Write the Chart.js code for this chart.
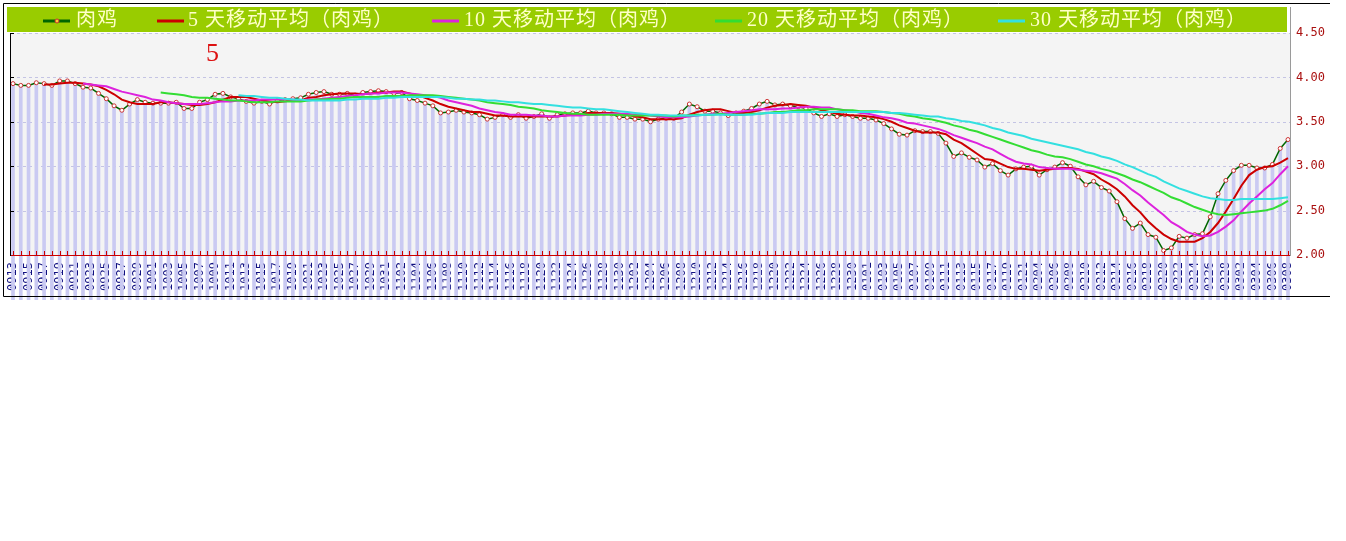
<!DOCTYPE html>
<html>
<head>
<meta charset="utf-8">
<script src="https://cdn.jsdelivr.net/npm/chart.js@4.4.0/dist/chart.umd.min.js"></script>
<style>
  body { margin: 0; background: #fff; }
  #wrap { position: absolute; left: 0; top: 0; width: 1346px; height: 300px; }
</style>
</head>
<body>
<div id="wrap"><canvas id="chart" width="1346" height="300"></canvas></div>
<script>
// trading days, 0913 .. 0308
var categories = [
  "0913","0914","0915","0916","0917","0918","0919","0920","0921","0922",
  "0923","0924","0925","0926","0927","0928","0929","0930","1001","1002",
  "1003","1004","1005","1006","1007","1008","1009","1010","1011","1012",
  "1013","1014","1015","1016","1017","1018","1019","1020","1021","1022",
  "1023","1024","1025","1026","1027","1028","1029","1030","1031","1101",
  "1102","1103","1104","1105","1106","1107","1108","1109","1110","1111",
  "1112","1113","1114","1115","1116","1117","1118","1119","1120","1121",
  "1122","1123","1124","1125","1126","1127","1128","1129","1130","1201",
  "1202","1203","1204","1205","1206","1207","1208","1209","1210","1211",
  "1212","1213","1214","1215","1216","1217","1218","1219","1220","1221",
  "1222","1223","1224","1225","1226","1227","1228","1229","1230","1231",
  "0101","0102","0103","0104","0105","0106","0107","0108","0109","0110",
  "0111","0112","0113","0114","0115","0116","0117","0118","0119","0120",
  "0121","0122","0204","0205","0206","0207","0208","0209","0210","0211",
  "0212","0213","0214","0215","0216","0217","0218","0219","0220","0221",
  "0222","0223","0224","0225","0226","0227","0228","0301","0302","0303",
  "0304","0305","0306","0307","0308"
];

var price = [
  3.93,3.91,3.91,3.94,3.93,3.91,3.96,3.96,3.93,3.89,
  3.88,3.82,3.76,3.68,3.63,3.70,3.75,3.72,3.71,3.71,
  3.71,3.72,3.65,3.65,3.72,3.75,3.81,3.82,3.78,3.76,
  3.73,3.71,3.73,3.70,3.74,3.75,3.76,3.77,3.81,3.83,
  3.84,3.81,3.81,3.82,3.80,3.83,3.84,3.85,3.84,3.82,
  3.83,3.76,3.74,3.71,3.68,3.60,3.61,3.63,3.61,3.60,
  3.58,3.53,3.55,3.58,3.55,3.58,3.54,3.56,3.59,3.54,
  3.58,3.59,3.60,3.60,3.62,3.60,3.60,3.59,3.55,3.55,
  3.53,3.53,3.50,3.53,3.54,3.54,3.61,3.70,3.67,3.62,
  3.62,3.60,3.57,3.60,3.62,3.65,3.70,3.73,3.69,3.70,
  3.68,3.67,3.65,3.60,3.56,3.59,3.56,3.58,3.56,3.54,
  3.54,3.52,3.48,3.42,3.36,3.35,3.40,3.39,3.39,3.37,
  3.26,3.11,3.15,3.10,3.07,2.99,3.03,2.95,2.90,2.97,
  2.99,3.00,2.90,2.96,2.99,3.04,3.00,2.88,2.79,2.83,
  2.76,2.72,2.60,2.41,2.30,2.36,2.23,2.20,2.05,2.08,
  2.21,2.19,2.23,2.24,2.43,2.69,2.84,2.95,3.01,3.01,
  2.98,2.98,3.02,3.20,3.30
];

var ma5 = [
  null,null,null,null,3.92,3.92,3.93,3.94,3.94,3.93,
  3.92,3.90,3.86,3.81,3.75,3.72,3.70,3.70,3.70,3.72,
  3.72,3.71,3.70,3.69,3.69,3.70,3.72,3.75,3.78,3.78,
  3.78,3.76,3.74,3.73,3.72,3.73,3.74,3.74,3.77,3.78,
  3.80,3.81,3.82,3.82,3.82,3.81,3.82,3.83,3.83,3.84,
  3.84,3.82,3.80,3.77,3.74,3.70,3.67,3.65,3.63,3.61,
  3.61,3.59,3.57,3.57,3.56,3.56,3.56,3.56,3.56,3.56,
  3.56,3.57,3.58,3.58,3.60,3.60,3.60,3.60,3.59,3.58,
  3.56,3.55,3.53,3.53,3.53,3.53,3.54,3.58,3.61,3.63,
  3.64,3.64,3.62,3.60,3.60,3.61,3.63,3.66,3.68,3.69,
  3.70,3.69,3.68,3.66,3.63,3.61,3.59,3.58,3.57,3.57,
  3.56,3.55,3.53,3.50,3.46,3.43,3.40,3.38,3.38,3.38,
  3.36,3.30,3.26,3.20,3.14,3.08,3.07,3.03,2.99,2.97,
  2.97,2.96,2.95,2.96,2.97,2.98,2.98,2.97,2.94,2.91,
  2.85,2.80,2.74,2.66,2.56,2.48,2.38,2.30,2.23,2.18,
  2.15,2.15,2.15,2.19,2.26,2.36,2.49,2.63,2.78,2.90,
  2.96,2.99,3.00,3.04,3.09
];

var ma10 = [
  null,null,null,null,null,null,null,null,null,3.93,
  3.92,3.91,3.90,3.87,3.84,3.82,3.80,3.78,3.75,3.74,
  3.72,3.71,3.70,3.70,3.70,3.71,3.72,3.73,3.73,3.74,
  3.74,3.74,3.75,3.75,3.75,3.75,3.75,3.74,3.75,3.75,
  3.76,3.77,3.78,3.79,3.80,3.81,3.82,3.82,3.83,3.83,
  3.83,3.82,3.81,3.80,3.79,3.77,3.74,3.72,3.70,3.68,
  3.65,3.63,3.61,3.60,3.58,3.58,3.58,3.57,3.57,3.56,
  3.56,3.57,3.57,3.57,3.58,3.58,3.59,3.59,3.59,3.59,
  3.58,3.58,3.57,3.56,3.55,3.55,3.55,3.56,3.57,3.58,
  3.59,3.59,3.60,3.61,3.62,3.63,3.64,3.64,3.64,3.65,
  3.65,3.66,3.67,3.67,3.66,3.66,3.64,3.63,3.62,3.60,
  3.59,3.57,3.55,3.54,3.52,3.49,3.48,3.46,3.44,3.42,
  3.39,3.35,3.32,3.29,3.26,3.22,3.19,3.14,3.09,3.05,
  3.03,3.02,2.99,2.98,2.97,2.97,2.97,2.96,2.95,2.94,
  2.92,2.89,2.86,2.80,2.73,2.67,2.59,2.52,2.45,2.37,
  2.32,2.26,2.23,2.21,2.22,2.26,2.32,2.39,2.49,2.58,
  2.66,2.74,2.81,2.91,3.00
];

var ma20 = [
  null,null,null,null,null,null,null,null,null,null,
  null,null,null,null,null,null,null,null,null,3.83,
  3.82,3.81,3.80,3.78,3.77,3.77,3.76,3.75,3.74,3.74,
  3.73,3.72,3.72,3.72,3.73,3.73,3.73,3.73,3.74,3.75,
  3.75,3.76,3.76,3.77,3.78,3.78,3.78,3.78,3.79,3.79,
  3.79,3.80,3.80,3.80,3.80,3.79,3.78,3.77,3.76,3.75,
  3.74,3.72,3.71,3.70,3.69,3.67,3.66,3.65,3.63,3.62,
  3.61,3.60,3.59,3.59,3.58,3.58,3.58,3.58,3.58,3.57,
  3.57,3.57,3.57,3.57,3.57,3.56,3.57,3.57,3.58,3.58,
  3.58,3.59,3.58,3.58,3.58,3.59,3.59,3.60,3.61,3.61,
  3.62,3.63,3.63,3.64,3.64,3.64,3.64,3.63,3.63,3.62,
  3.62,3.62,3.61,3.60,3.59,3.57,3.56,3.54,3.53,3.51,
  3.49,3.46,3.44,3.41,3.39,3.36,3.33,3.30,3.27,3.24,
  3.21,3.18,3.16,3.13,3.11,3.10,3.08,3.05,3.02,3.00,
  2.97,2.95,2.92,2.89,2.85,2.82,2.78,2.74,2.70,2.65,
  2.62,2.58,2.54,2.51,2.48,2.46,2.45,2.46,2.47,2.48,
  2.49,2.50,2.52,2.56,2.61
];

var ma30 = [
  null,null,null,null,null,null,null,null,null,null,
  null,null,null,null,null,null,null,null,null,null,
  null,null,null,null,null,null,null,null,null,3.80,
  3.79,3.79,3.78,3.77,3.77,3.76,3.75,3.75,3.74,3.74,
  3.74,3.74,3.74,3.75,3.75,3.76,3.76,3.76,3.77,3.77,
  3.78,3.78,3.78,3.78,3.78,3.78,3.77,3.76,3.76,3.75,
  3.75,3.74,3.74,3.73,3.72,3.72,3.71,3.70,3.70,3.69,
  3.68,3.67,3.66,3.66,3.65,3.64,3.64,3.63,3.62,3.61,
  3.60,3.59,3.58,3.58,3.57,3.57,3.57,3.57,3.57,3.58,
  3.58,3.58,3.58,3.58,3.58,3.58,3.59,3.60,3.60,3.60,
  3.61,3.61,3.61,3.61,3.61,3.61,3.61,3.61,3.61,3.61,
  3.61,3.61,3.61,3.60,3.60,3.59,3.58,3.57,3.56,3.56,
  3.54,3.53,3.51,3.50,3.48,3.46,3.43,3.41,3.38,3.36,
  3.34,3.31,3.29,3.27,3.25,3.23,3.21,3.19,3.16,3.14,
  3.11,3.09,3.06,3.02,2.99,2.95,2.91,2.88,2.83,2.79,
  2.75,2.72,2.69,2.66,2.64,2.63,2.62,2.62,2.63,2.63,
  2.63,2.63,2.63,2.64,2.65
];

var yMin = 2.0, yMax = 4.5, yStep = 0.5;

// legend sample / text x positions
var legendPos = [
  { line: 43, text: 76 },
  { line: 157, text: 188 },
  { line: 432, text: 464 },
  { line: 715, text: 747 },
  { line: 998, text: 1030 }
];

var framePlugin = {
  id: "frame",
  beforeDraw: function (chart) {
    var ctx = chart.ctx, a = chart.chartArea;
    ctx.save();
    ctx.fillStyle = "#f4f4f4";
    ctx.fillRect(11, a.top, 1290 - 11, a.bottom - a.top);
    ctx.restore();
  },
  beforeDatasetsDraw: function (chart) {
    var ctx = chart.ctx, y = chart.scales.y;
    ctx.save();
    ctx.strokeStyle = "#c4c4e4";
    ctx.lineWidth = 1;
    ctx.setLineDash([3, 3]);
    y.ticks.forEach(function (t) {
      if (t.value <= yMin) return;
      var py = Math.round(y.getPixelForValue(t.value)) + 0.5;
      ctx.beginPath();
      ctx.moveTo(11, py);
      ctx.lineTo(1290, py);
      ctx.stroke();
    });
    ctx.restore();
  },
  afterDraw: function (chart) {
    var ctx = chart.ctx, a = chart.chartArea;
    var x = chart.scales.x, y = chart.scales.y;
    ctx.save();

    // outer frame
    ctx.strokeStyle = "#000";
    ctx.lineWidth = 1;
    ctx.beginPath();
    ctx.moveTo(1330, 3.5); ctx.lineTo(3.5, 3.5); ctx.lineTo(3.5, 296.5); ctx.lineTo(1330, 296.5);
    ctx.stroke();

    // right grey border
    ctx.strokeStyle = "#9a9a9a";
    ctx.beginPath();
    ctx.moveTo(1290.5, 7); ctx.lineTo(1290.5, a.bottom + 1);
    ctx.stroke();

    // left axis with small ticks
    ctx.strokeStyle = "#000";
    ctx.beginPath();
    ctx.moveTo(10.5, a.top); ctx.lineTo(10.5, a.bottom + 1);
    y.ticks.forEach(function (t) {
      var py = Math.round(y.getPixelForValue(t.value)) + 0.5;
      ctx.moveTo(10, py); ctx.lineTo(14, py);
    });
    ctx.stroke();

    // red bottom axis with inner ticks
    ctx.strokeStyle = "#cc0000";
    ctx.beginPath();
    ctx.moveTo(11, a.bottom + 0.5); ctx.lineTo(1290, a.bottom + 0.5);
    for (var i = 0; i < categories.length; i++) {
      var px = Math.round(x.getPixelForValue(i)) + 0.5;
      ctx.moveTo(px, a.bottom - 4); ctx.lineTo(px, a.bottom);
    }
    ctx.stroke();

    // legend bar
    ctx.fillStyle = "#99cc00";
    ctx.fillRect(7, 7, 1280, 25);
    ctx.font = '20px "Liberation Serif", "Noto Sans CJK SC"';
    ctx.letterSpacing = "1px";
    ctx.textBaseline = "middle";
    ctx.textAlign = "left";
    var sets = chart.data.datasets.slice(1);
    sets.forEach(function (ds, k) {
      var p = legendPos[k];
      ctx.strokeStyle = ds.borderColor;
      ctx.lineWidth = 3;
      ctx.beginPath();
      ctx.moveTo(p.line, 21); ctx.lineTo(p.line + 27, 21);
      ctx.stroke();
      if (k === 0) {
        ctx.lineWidth = 1;
        ctx.fillStyle = "#ffcc33";
        ctx.strokeStyle = "#cc3333";
        ctx.beginPath();
        ctx.arc(p.line + 14, 21, 2, 0, Math.PI * 2);
        ctx.fill(); ctx.stroke();
      }
      ctx.fillStyle = "#ffffc8";
      ctx.fillText(ds.label, p.text, 21);
    });
    ctx.letterSpacing = "0px";

    // red marker digit
    ctx.fillStyle = "#dd1111";
    ctx.font = '26px "Liberation Serif"';
    ctx.textBaseline = "alphabetic";
    ctx.fillText("5", 206, 61);

    ctx.restore();
  }
};

new Chart(document.getElementById("chart"), {
  data: {
    labels: categories,
    datasets: [
      {
        type: "bar",
        label: "bars",
        data: price,
        backgroundColor: "#cacaf2",
        barThickness: 3,
        clip: false,
        order: 10
      },
      {
        type: "line",
        label: "肉鸡",
        data: price,
        borderColor: "#006600",
        borderWidth: 1.5,
        pointRadius: 2,
        pointBorderWidth: 1,
        pointBorderColor: "#cc3333",
        pointBackgroundColor: "#ffffff",
        clip: false,
        order: 5
      },
      {
        type: "line",
        label: "5 天移动平均（肉鸡）",
        data: ma5,
        borderColor: "#cc0000",
        borderWidth: 2,
        pointRadius: 0,
        order: 4
      },
      {
        type: "line",
        label: "10 天移动平均（肉鸡）",
        data: ma10,
        borderColor: "#dd22dd",
        borderWidth: 2,
        pointRadius: 0,
        order: 3
      },
      {
        type: "line",
        label: "20 天移动平均（肉鸡）",
        data: ma20,
        borderColor: "#33dd33",
        borderWidth: 2,
        pointRadius: 0,
        order: 2
      },
      {
        type: "line",
        label: "30 天移动平均（肉鸡）",
        data: ma30,
        borderColor: "#33e0e0",
        borderWidth: 2,
        pointRadius: 0,
        order: 1
      }
    ]
  },
  options: {
    responsive: false,
    animation: false,
    devicePixelRatio: 1,
    layout: { padding: { left: 13, top: 33, right: 0, bottom: 0 } },
    plugins: { legend: { display: false }, tooltip: { enabled: false } },
    scales: {
      x: {
        type: "category",
        offset: false,
        grid: { display: false, drawTicks: false },
        border: { display: false },
        afterFit: function (s) { s.height = 45; },
        ticks: {
          autoSkip: false,
          maxRotation: 90,
          minRotation: 90,
          padding: 7,
          color: "#101080",
          font: { family: "DejaVu Sans Mono", size: 12 },
          callback: function (v, i) { return i % 2 === 0 ? categories[i] : ""; }
        }
      },
      y: {
        position: "right",
        min: yMin,
        max: yMax,
        grid: { display: false, drawTicks: false },
        border: { display: false },
        afterFit: function (s) { s.width = 58; },
        ticks: {
          stepSize: yStep,
          padding: 8,
          color: "#aa1111",
          font: { family: "DejaVu Sans Mono", size: 12 },
          callback: function (v) { return v.toFixed(2); }
        }
      }
    }
  },
  plugins: [framePlugin]
});
</script>
</body>
</html>
